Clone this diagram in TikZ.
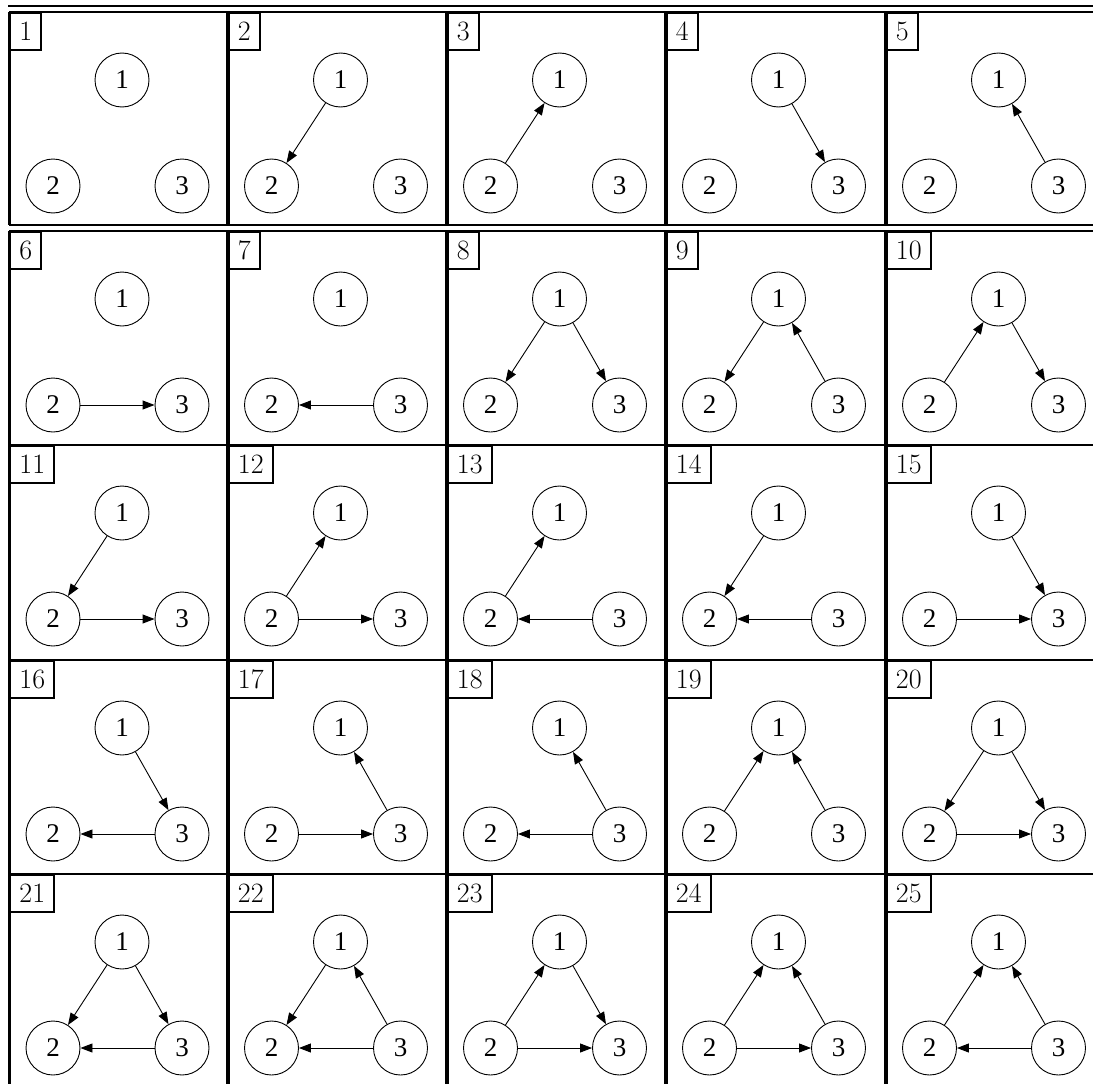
\documentclass[tikz,border=0pt]{standalone}
\usepackage{fontspec}
\newfontfamily\nodefont{Liberation Serif}
\usetikzlibrary{arrows.meta}
\begin{document}
\begin{tikzpicture}[x=1pt,y=-1pt,
  gnode/.style={circle,draw,line width=0.9pt,minimum size=54pt,inner sep=0pt,font=\nodefont\fontsize{27}{30}\selectfont},
  lbl/.style={draw,line width=1.8pt,anchor=north west,inner xsep=9pt,inner ysep=0pt,minimum height=37pt,font=\fontsize{28}{30}\selectfont},
  frame/.style={line width=1.8pt},
  thickside/.style={line width=3.8pt},
  edge/.style={line width=0.9pt,-{Triangle[length=12pt,width=9pt]}}]
\useasboundingbox (0,0) rectangle (1093,1084);
\clip (0,0) rectangle (1093,1084);
\draw[frame] (8,6) -- (1093,6);
\foreach \r/\top/\bot in {0/12/225,1/231/445,2/445/660,3/660/874,4/874/1090} {
  \foreach \c/\lft/\rgt in {0/9.5/228,1/228/447,2/447/666,3/666/886,4/886/1105} {
    \pgfmathtruncatemacro\k{\r*5+\c+1}
    \draw[frame] (\lft,\top) rectangle (\rgt,\bot);
    \draw[thickside] (\lft,\top) -- (\lft,\bot);
    \node[lbl] (L\k) at (\lft,\top) {\k};
    \draw[thickside] (L\k.north west) -- (L\k.south west);
    \node[gnode] (a\k) at (\lft+112.5,\top+68) {1};
    \node[gnode] (b\k) at (\lft+43.5,\top+174) {2};
    \node[gnode] (c\k) at (\lft+172.5,\top+174) {3};
  }
}
\foreach \s/\t in {a2/b2, b3/a3, a4/c4, c5/a5, b6/c6, c7/b7,
  a8/b8, a8/c8, a9/b9, c9/a9, b10/a10, a10/c10,
  a11/b11, b11/c11, b12/a12, b12/c12, b13/a13, c13/b13,
  a14/b14, c14/b14, a15/c15, b15/c15, a16/c16, c16/b16,
  c17/a17, b17/c17, c18/a18, c18/b18, b19/a19, c19/a19,
  a20/b20, a20/c20, b20/c20, a21/b21, a21/c21, c21/b21,
  a22/b22, c22/a22, c22/b22, b23/a23, a23/c23, b23/c23,
  b24/a24, c24/a24, b24/c24, b25/a25, c25/a25, c25/b25}
  \draw[edge] (\s) -- (\t);
\end{tikzpicture}
\end{document}
